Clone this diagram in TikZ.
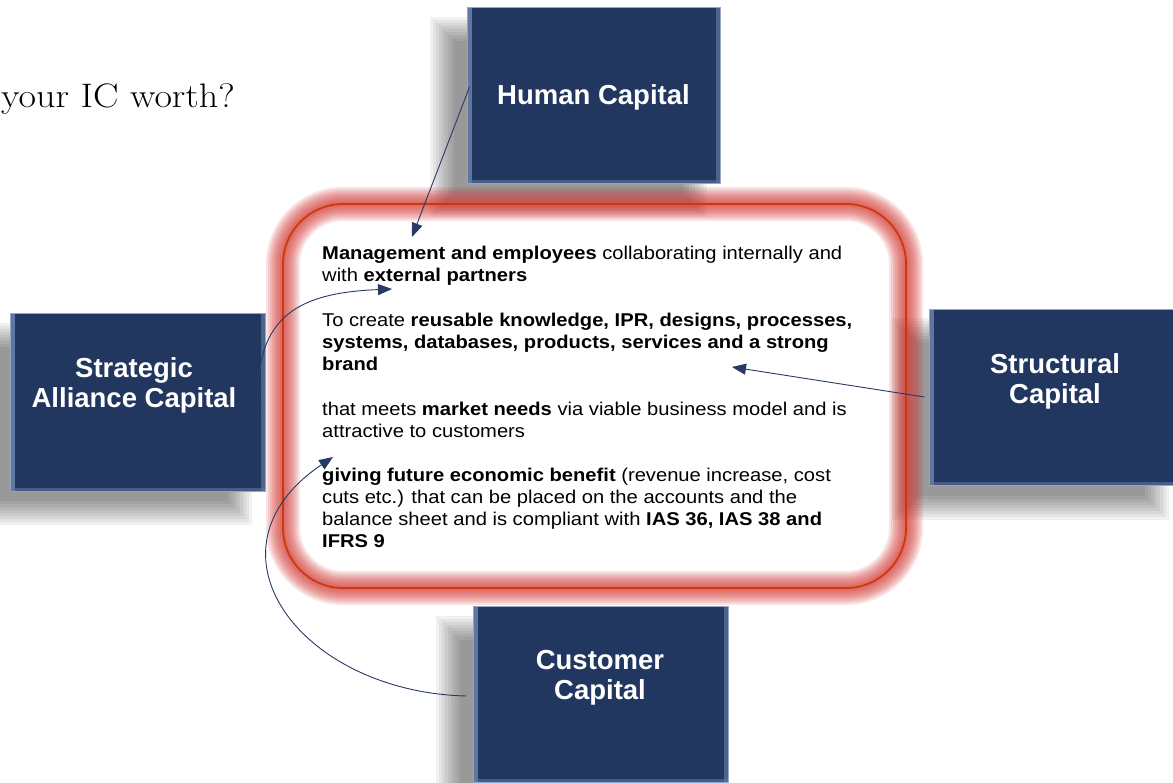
\documentclass[tikz,border=0pt]{standalone}
\usepackage{fontspec}
\newfontfamily\arialfont{Liberation Sans}
\newfontfamily\arialwide[FakeStretch=1.09]{Liberation Sans}
\newfontfamily\titlefont[FakeStretch=1.12]{Latin Modern Roman}
\usetikzlibrary{arrows.meta}

\definecolor{capblue}{RGB}{33,55,96}
\definecolor{capedge}{RGB}{150,165,195}
\definecolor{bevel}{RGB}{95,118,160}
\definecolor{glowred}{RGB}{205,40,35}
\definecolor{linered}{RGB}{205,55,10}
\definecolor{arrowblue}{RGB}{38,58,100}

% soft grey shadow below-left of a box: x1 y1 x2 y2
\newcommand{\boxshadow}[4]{%
  \foreach \r in {-12,-9,...,12}
    \fill[black,opacity=0.055] (#1-25-\r,#2+22-\r) rectangle (#3-25+\r,#4+22+\r);}

\begin{document}
\begin{tikzpicture}[x=1pt,y=1pt,yscale=-1,
  capbox/.style={fill=capblue,draw=capedge,line width=1pt,inner sep=0pt,
    minimum width=253pt,minimum height=176pt,
    path picture={
      \fill[bevel] (path picture bounding box.north west) rectangle ([xshift=5pt]path picture bounding box.south west);
      \fill[bevel,opacity=0.7] ([xshift=-4pt]path picture bounding box.north east) rectangle (path picture bounding box.south east);
      \fill[bevel,opacity=0.6] ([yshift=3pt]path picture bounding box.south west) rectangle (path picture bounding box.south east);}},
  captext/.style={text=white,align=center,inner sep=0pt,
    font=\arialfont\bfseries\fontsize{27.5}{30}\selectfont},
  bodytext/.style={anchor=north west,inner sep=0pt,align=left,
    font=\arialwide\fontsize{18.5}{22}\selectfont},
  link/.style={draw=arrowblue,line width=0.9pt,
    -{Triangle[length=14pt,width=11pt,fill=arrowblue]}},
]
\useasboundingbox (0,0) rectangle (1173,782);
\clip (0,0) rectangle (1173,782);

%Shadows
\boxshadow{467}{7}{720}{183}
\boxshadow{10}{313}{265}{491}
\boxshadow{929}{308}{1182}{486}
\boxshadow{473}{606}{728}{782}

%Glowing frame
\foreach \w in {34,30,...,6}
  \draw[glowred,line width=\w pt,opacity=0.13,rounded corners=60pt] (283,204) rectangle (906,588);
\fill[white,rounded corners=44pt] (304,225) rectangle (885,567);
\draw[linered,line width=1.8pt,rounded corners=60pt] (283,204) rectangle (906,588);

%Boxes
\node[capbox] (human) at (593.5,95) {};
\node[captext] (humantext) at (593.5,97) {Human Capital};
\node[capbox,minimum width=255pt,minimum height=178pt] (strategic) at (137.5,402) {};
\node[captext] (strategictext) at (134,385) {Strategic\\Alliance Capital};
\node[capbox] (structural) at (1055.5,397) {};
\node[captext] (structuraltext) at (1055,381) {Structural\\Capital};
\node[capbox,minimum width=255pt] (customer) at (600.5,694) {};
\node[captext] (customertext) at (600,678) {Customer\\Capital};

% Text Node
\node (title) at (1,107) [anchor=base west,inner sep=0pt,font=\titlefont\fontsize{34}{40}\selectfont] {your IC worth?};
% Text Node
\node[bodytext] (body) at (322,246) {%
\textbf{Management and employees} collaborating internally and\\
with \textbf{external partners}\\[23pt]
To create \textbf{reusable knowledge, IPR, designs, processes,}\\
\textbf{systems, databases, products, services and a strong}\\
\textbf{brand}\\[23pt]
that meets \textbf{market needs} via viable business model and is\\
attractive to customers\\[22pt]
\textbf{giving future economic benefit} (revenue increase, cost\\
cuts etc.) that can be placed on the accounts and the\\
balance sheet and is compliant with \textbf{IAS 36, IAS 38 and}\\
\textbf{IFRS 9}};

%Arrow ends
\coordinate (mgmt) at (412,237);
\coordinate (partners) at (392,289);
\coordinate (brand) at (732,367);
\coordinate (benefit) at (333,457);

%Connectors
\draw[link] ([xshift=3pt,yshift=-8pt]human.west) -- (mgmt);
\draw[link] ([xshift=-7pt,yshift=12pt]strategic.east) .. controls (252,318) and (295,293) .. (partners);
\draw[link] ([xshift=-4pt]structural.west) -- (brand);
\draw[link] ([xshift=-6pt,yshift=2pt]customer.west) .. controls (300,692) and (195,550) .. (benefit);

\end{tikzpicture}
\end{document}
